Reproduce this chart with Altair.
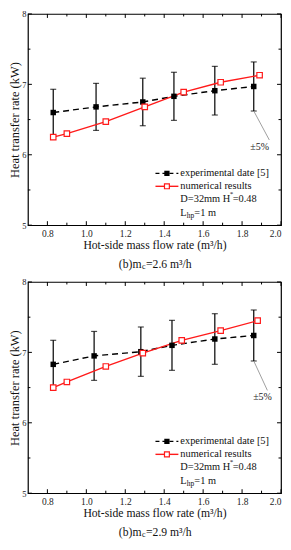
import altair as alt
import pandas as pd

# ---- data ----
exp_x1 = [0.83, 1.05, 1.29, 1.45, 1.66, 1.86]
exp_y1 = [6.60, 6.68, 6.75, 6.83, 6.91, 6.97]
num_x1 = [0.83, 0.90, 1.10, 1.30, 1.50, 1.69, 1.89]
num_y1 = [6.25, 6.30, 6.47, 6.68, 6.89, 7.03, 7.13]

exp_x2 = [0.83, 1.04, 1.28, 1.44, 1.66, 1.86]
exp_y2 = [6.83, 6.95, 7.01, 7.10, 7.19, 7.24]
num_x2 = [0.83, 0.90, 1.10, 1.29, 1.49, 1.69, 1.88]
num_y2 = [6.50, 6.58, 6.80, 6.99, 7.17, 7.31, 7.45]

err_frac = 0.05

# annotation "±5%" : leader line end and label position (data units)
ann1 = {"x2": 1.94, "y2": 6.21, "tx": 1.89, "ty": 6.11}
ann2 = {"x2": 1.93, "y2": 6.46, "tx": 1.905, "ty": 6.36}

subtitle_vals = ["=2.6 m³/h", "=2.9 m³/h"]

x_major = [0.8, 1.0, 1.2, 1.4, 1.6, 1.8, 2.0]
x_minor = [0.9, 1.1, 1.3, 1.5, 1.7, 1.9]
y_major = [5, 6, 7, 8]
y_minor = [5.5, 6.5, 7.5]

W, H = 254, 212
FONT = "Liberation Serif, Times New Roman, serif"
RED = "#ff1a1a"

xs = alt.Scale(domain=[0.7, 2.0], nice=False, zero=False)
ys = alt.Scale(domain=[5, 8], nice=False, zero=False)

XAX = alt.Axis(
    values=x_major, format=".1f", ticks=False, domain=False, grid=False,
    labelFont=FONT, labelFontSize=9.5, labelColor="#222", labelPadding=3,
    labelFlush=True, labelFlushOffset=0,
    title="Hot-side mass flow rate (m³/h)", titleFont=FONT, titleFontSize=11.7,
    titleFontWeight="normal", titleColor="#111", titlePadding=2)
YAX = alt.Axis(
    values=y_major, format="d", ticks=False, domain=False, grid=False,
    labelFont=FONT, labelFontSize=8.5, labelColor="#222", labelPadding=2,
    title="Heat transfer rate (kW)", titleFont=FONT, titleFontSize=12.5,
    titleFontWeight="normal", titleColor="#111", titlePadding=0)


def panel(ex, ey, nx, ny, ann, sub):
    dexp = pd.DataFrame({"x": ex, "y": ey})
    dexp["lo"] = dexp["y"] * (1 - err_frac)
    dexp["hi"] = dexp["y"] * (1 + err_frac)
    dnum = pd.DataFrame({"x": nx, "y": ny})

    X = alt.X("x:Q", scale=xs, axis=XAX)
    Y = alt.Y("y:Q", scale=ys, axis=YAX)

    base_e = alt.Chart(dexp)
    base_n = alt.Chart(dnum)

    err = base_e.mark_rule(color="black", strokeWidth=1.2).encode(
        x=X, y=alt.Y("lo:Q", scale=ys, axis=YAX), y2="hi:Q")
    cap_lo = base_e.mark_tick(color="black", orient="horizontal", size=6, thickness=1.2).encode(
        x=alt.X("x:Q", scale=xs), y=alt.Y("lo:Q", scale=ys))
    cap_hi = base_e.mark_tick(color="black", orient="horizontal", size=6, thickness=1.2).encode(
        x=alt.X("x:Q", scale=xs), y=alt.Y("hi:Q", scale=ys))
    eline = base_e.mark_line(color="black", strokeDash=[6, 4], strokeWidth=1.4).encode(X, Y)
    epts = base_e.mark_point(shape="square", filled=True, color="black", size=30, opacity=1).encode(X, Y)
    nline = base_n.mark_line(color=RED, strokeWidth=1.4).encode(X, Y)
    npts = base_n.mark_point(shape="square", filled=True, fill="white", stroke=RED,
                             strokeWidth=1.2, size=30, opacity=1).encode(X, Y)

    # inward ticks on all four sides
    dxM = pd.DataFrame({"v": x_major})
    dxm = pd.DataFrame({"v": x_minor})
    dyM = pd.DataFrame({"v": y_major})
    dym = pd.DataFrame({"v": y_minor})
    tk = dict(color="black", strokeWidth=1)
    ticks = []
    for d, L in ((dxM, 4), (dxm, 2.5)):
        ticks.append(alt.Chart(d).mark_rule(**tk).encode(
            x=alt.X("v:Q", scale=xs), y=alt.value(H), y2=alt.value(H - L)))
        ticks.append(alt.Chart(d).mark_rule(**tk).encode(
            x=alt.X("v:Q", scale=xs), y=alt.value(0), y2=alt.value(L)))
    for d, L in ((dyM, 4), (dym, 2.5)):
        ticks.append(alt.Chart(d).mark_rule(**tk).encode(
            y=alt.Y("v:Q", scale=ys), x=alt.value(0), x2=alt.value(L)))
        ticks.append(alt.Chart(d).mark_rule(**tk).encode(
            y=alt.Y("v:Q", scale=ys), x=alt.value(W), x2=alt.value(W - L)))

    # ±5% annotation
    last = dexp.iloc[[-1]].copy()
    last["x2"] = ann["x2"]
    last["y2"] = ann["y2"]
    last["tx"] = ann["tx"]
    last["ty"] = ann["ty"]
    aline = alt.Chart(last).mark_rule(color="#888", strokeWidth=0.8).encode(
        x=alt.X("x:Q", scale=xs), y=alt.Y("lo:Q", scale=ys), x2="x2:Q", y2="y2:Q")
    atext = alt.Chart(last).mark_text(font=FONT, fontSize=10, color="#222").encode(
        x=alt.X("tx:Q", scale=xs), y=alt.Y("ty:Q", scale=ys), text=alt.value("±5%"))

    # legend (drawn inside the plot)
    one = pd.DataFrame({"k": [0]})
    lx0, lx1, tx = W - 126, W - 103, W - 101
    r1, r2, r3, r4 = 160, 173, 186, 200
    leg = [
        alt.Chart(one).mark_rule(color="black", strokeDash=[4, 3], strokeWidth=1.4).encode(
            x=alt.value(lx0), x2=alt.value(lx1), y=alt.value(r1)),
        alt.Chart(one).mark_point(shape="square", filled=True, color="black", size=28, opacity=1).encode(
            x=alt.value((lx0 + lx1) / 2), y=alt.value(r1)),
        alt.Chart(one).mark_rule(color=RED, strokeWidth=1.4).encode(
            x=alt.value(lx0), x2=alt.value(lx1), y=alt.value(r2)),
        alt.Chart(one).mark_point(shape="square", filled=True, fill="white", stroke=RED,
                                  strokeWidth=1.2, size=24, opacity=1).encode(
            x=alt.value((lx0 + lx1) / 2), y=alt.value(r2)),
    ]
    tstyle = dict(font=FONT, fontSize=10.4, color="#111", align="left", baseline="middle")
    leg += [
        alt.Chart(one).mark_text(**tstyle).encode(
            x=alt.value(tx), y=alt.value(r1), text=alt.value("experimental date [5]")),
        alt.Chart(one).mark_text(**tstyle).encode(
            x=alt.value(tx), y=alt.value(r2), text=alt.value("numerical results")),
        alt.Chart(one).mark_text(**tstyle).encode(
            x=alt.value(tx), y=alt.value(r3), text=alt.value("D=32mm H")),
        alt.Chart(one).mark_text(font=FONT, fontSize=7, color="#111", align="left", baseline="middle").encode(
            x=alt.value(tx + 49.5), y=alt.value(r3 - 5), text=alt.value("*")),
        alt.Chart(one).mark_text(**tstyle).encode(
            x=alt.value(tx + 52.5), y=alt.value(r3), text=alt.value("=0.48")),
        alt.Chart(one).mark_text(**tstyle).encode(
            x=alt.value(tx), y=alt.value(r4), text=alt.value("L")),
        alt.Chart(one).mark_text(font=FONT, fontSize=7.5, color="#111", align="left", baseline="middle").encode(
            x=alt.value(tx + 6.5), y=alt.value(r4 + 3), text=alt.value("hp")),
        alt.Chart(one).mark_text(**tstyle).encode(
            x=alt.value(tx + 14), y=alt.value(r4), text=alt.value("=1 m")),
    ]

    # subtitle below the axis title
    sy = H + 39
    sstyle = dict(font=FONT, fontSize=11.7, color="#111", baseline="middle")
    subt = [
        alt.Chart(one).mark_text(align="right", **sstyle).encode(
            x=alt.value(W / 2 - 13), y=alt.value(sy), text=alt.value("(b)m")),
        alt.Chart(one).mark_text(align="left", font=FONT, fontSize=8, color="#111", baseline="middle").encode(
            x=alt.value(W / 2 - 12.5), y=alt.value(sy + 3), text=alt.value("c")),
        alt.Chart(one).mark_text(align="left", **sstyle).encode(
            x=alt.value(W / 2 - 8.5), y=alt.value(sy), text=alt.value(sub)),
    ]

    return alt.layer(err, cap_lo, cap_hi, eline, nline, epts, npts, *ticks,
                     aline, atext, *leg, *subt).properties(width=W, height=H)


top = panel(exp_x1, exp_y1, num_x1, num_y1, ann1, subtitle_vals[0])
bot = panel(exp_x2, exp_y2, num_x2, num_y2, ann2, subtitle_vals[1])

chart = alt.vconcat(top, bot, spacing=5).properties(
    padding={"left": 0, "top": 0, "right": 0, "bottom": 0},
    background="white",
).configure_view(stroke="black", strokeWidth=1.2)

chart.save("out.html", embed_options={"renderer": "svg", "actions": False})
